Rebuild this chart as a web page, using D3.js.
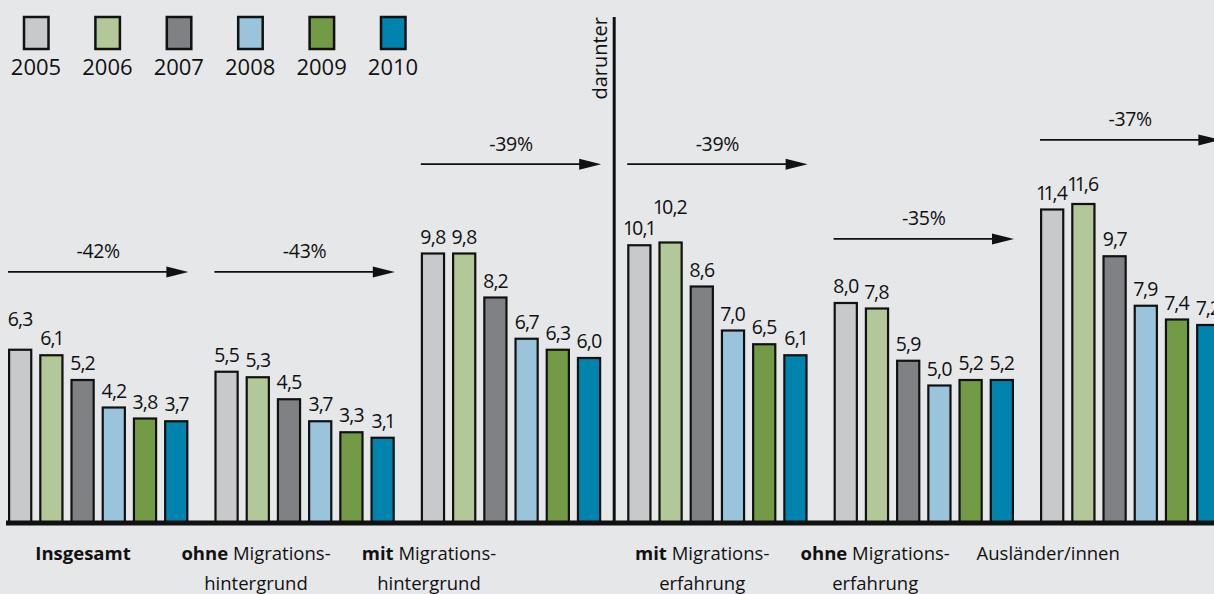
<!DOCTYPE html>
<html>
<head>
<meta charset="utf-8">
<script src="https://cdn.jsdelivr.net/npm/d3@7"></script>
<style>
  html, body { margin: 0; padding: 0; background: #e6e7e9; overflow: hidden; }
  svg { display: block; font-family: "Open Sans", "Noto Sans", sans-serif; }
  text.val { font-variant-numeric: proportional-nums; font-feature-settings: "pnum" 1; }
</style>
</head>
<body>
<svg id="chart" width="1214" height="594"></svg>
<script>
// ---------- data ----------
const categories = ["Insgesamt", "ohne Migrationshintergrund", "mit Migrationshintergrund",
                    "mit Migrationserfahrung", "ohne Migrationserfahrung", "Ausländer/innen"];
const years = ["2005", "2006", "2007", "2008", "2009", "2010"];
const v2005 = [6.3, 5.5, 9.8, 10.1, 8.0, 11.4];
const v2006 = [6.1, 5.3, 9.8, 10.2, 7.8, 11.6];
const v2007 = [5.2, 4.5, 8.2, 8.6, 5.9, 9.7];
const v2008 = [4.2, 3.7, 6.7, 7.0, 5.0, 7.9];
const v2009 = [3.8, 3.3, 6.3, 6.5, 5.2, 7.4];
const v2010 = [3.7, 3.1, 6.0, 6.1, 5.2, 7.2];
const changes = ["-42%", "-43%", "-39%", "-39%", "-35%", "-37%"];
const labelBold = ["Insgesamt", "ohne", "mit", "mit", "ohne", ""];
const labelRest = ["", " Migrations-", " Migrations-", " Migrations-", " Migrations-", "Ausländer/innen"];
const labelLine2 = ["", "hintergrund", "hintergrund", "erfahrung", "erfahrung", ""];
const dividerLabel = "darunter";

// ---------- layout / style ----------
const colors = ["#c8c9cb", "#b3c898", "#808184", "#9ac3dc", "#739a45", "#0083ad"];
const arrowLevels = [9.13, 9.13, 13.05, 13.05, 10.33, 13.93]; // arrow heights in value units
const labelLift = { "0-0": 14, "3-1": 19, "5-1": 3 };
const series = [v2005, v2006, v2007, v2008, v2009, v2010];

const svg = d3.select("#chart");
const baseline = 523;

const x = d3.scaleBand().domain(categories).range([8, 1220.4]).paddingInner(0.126).paddingOuter(0);
const xi = d3.scaleBand().domain(years).range([0, x.bandwidth()]).paddingInner(0.22).paddingOuter(0);
const y = d3.scaleLinear().domain([0, 12]).range([baseline, baseline - 12 * 27.5]);

// ---------- legend ----------
const lx = d3.scalePoint().domain(years).range([36, 36 + 5 * 71.4]);
const leg = svg.append("g");
leg.selectAll("rect").data(years).join("rect")
  .attr("x", d => lx(d) - 12).attr("y", 17).attr("width", 24.5).attr("height", 32)
  .attr("fill", (d, i) => colors[i]).attr("stroke", "#111").attr("stroke-width", 2.5);
leg.selectAll("text").data(years).join("text")
  .attr("x", d => lx(d)).attr("y", 75).attr("text-anchor", "middle")
  .attr("font-size", 22).attr("fill", "#111").text(d => d);

// ---------- bars ----------
const groups = svg.append("g").selectAll("g").data(categories).join("g")
  .attr("transform", d => `translate(${x(d)},0)`);

groups.each(function (cat, ci) {
  const g = d3.select(this);
  const vals = years.map((yr, yi) => ({ yr, yi, v: series[yi][ci] }));
  g.selectAll("rect").data(vals).join("rect")
    .attr("x", d => xi(d.yr) + 1.1)
    .attr("y", d => y(d.v))
    .attr("width", xi.bandwidth() - 2.2)
    .attr("height", d => baseline - y(d.v))
    .attr("fill", d => colors[d.yi])
    .attr("stroke", "#111").attr("stroke-width", 2.2);
  g.selectAll("text.val").data(vals).join("text").attr("class", "val")
    .attr("x", d => xi(d.yr) + xi.bandwidth() / 2)
    .attr("y", d => y(d.v) - 10 - (labelLift[ci + "-" + d.yi] || 0))
    .attr("text-anchor", "middle").attr("font-size", 19.5).attr("letter-spacing", -0.8)
    .attr("fill", "#111")
    .text(d => d3.format(".1f")(d.v).replace(".", ","));

  // arrow
  const ay = y(arrowLevels[ci]);
  const x2 = x.bandwidth();
  g.append("line").attr("x1", 0).attr("x2", x2 - 18).attr("y1", ay).attr("y2", ay)
    .attr("stroke", "#111").attr("stroke-width", 1.8);
  g.append("path").attr("d", `M${x2 - 22},${ay - 5.5} L${x2},${ay} L${x2 - 22},${ay + 5.5} Z`)
    .attr("fill", "#111");
  g.append("text").attr("x", x.bandwidth() / 2).attr("y", ay - 13.5)
    .attr("text-anchor", "middle").attr("font-size", 19.5).attr("letter-spacing", -0.3)
    .attr("fill", "#111").text(changes[ci]);
});

// ---------- axis line ----------
svg.append("line").attr("x1", 6).attr("x2", 1214).attr("y1", baseline).attr("y2", baseline)
  .attr("stroke", "#111").attr("stroke-width", 5);

// ---------- divider ----------
const divX = (x(categories[2]) + x.bandwidth() + x(categories[3])) / 2;
svg.append("line").attr("x1", divX).attr("x2", divX).attr("y1", 17).attr("y2", baseline)
  .attr("stroke", "#111").attr("stroke-width", 3);
svg.append("text").attr("transform", `translate(${divX - 7},17) rotate(-90)`)
  .attr("text-anchor", "end").attr("font-size", 20).attr("fill", "#111").text(dividerLabel);

// ---------- category labels ----------
const labelOffset = 75, labelStep = 173;
categories.forEach((cat, ci) => {
  const panelStart = x(categories[ci < 3 ? 0 : 3]);
  const cx = panelStart + labelOffset + (ci % 3) * labelStep;
  const t = svg.append("text").attr("x", cx).attr("y", 560).attr("text-anchor", "middle")
    .attr("font-size", 18.5).attr("fill", "#111");
  if (labelBold[ci]) t.append("tspan").attr("font-weight", "bold").text(labelBold[ci]);
  if (labelRest[ci]) t.append("tspan").text(labelRest[ci]);
  if (labelLine2[ci]) {
    svg.append("text").attr("x", cx).attr("y", 590).attr("text-anchor", "middle")
      .attr("font-size", 18.5).attr("fill", "#111").text(labelLine2[ci]);
  }
});
</script>
</body>
</html>
